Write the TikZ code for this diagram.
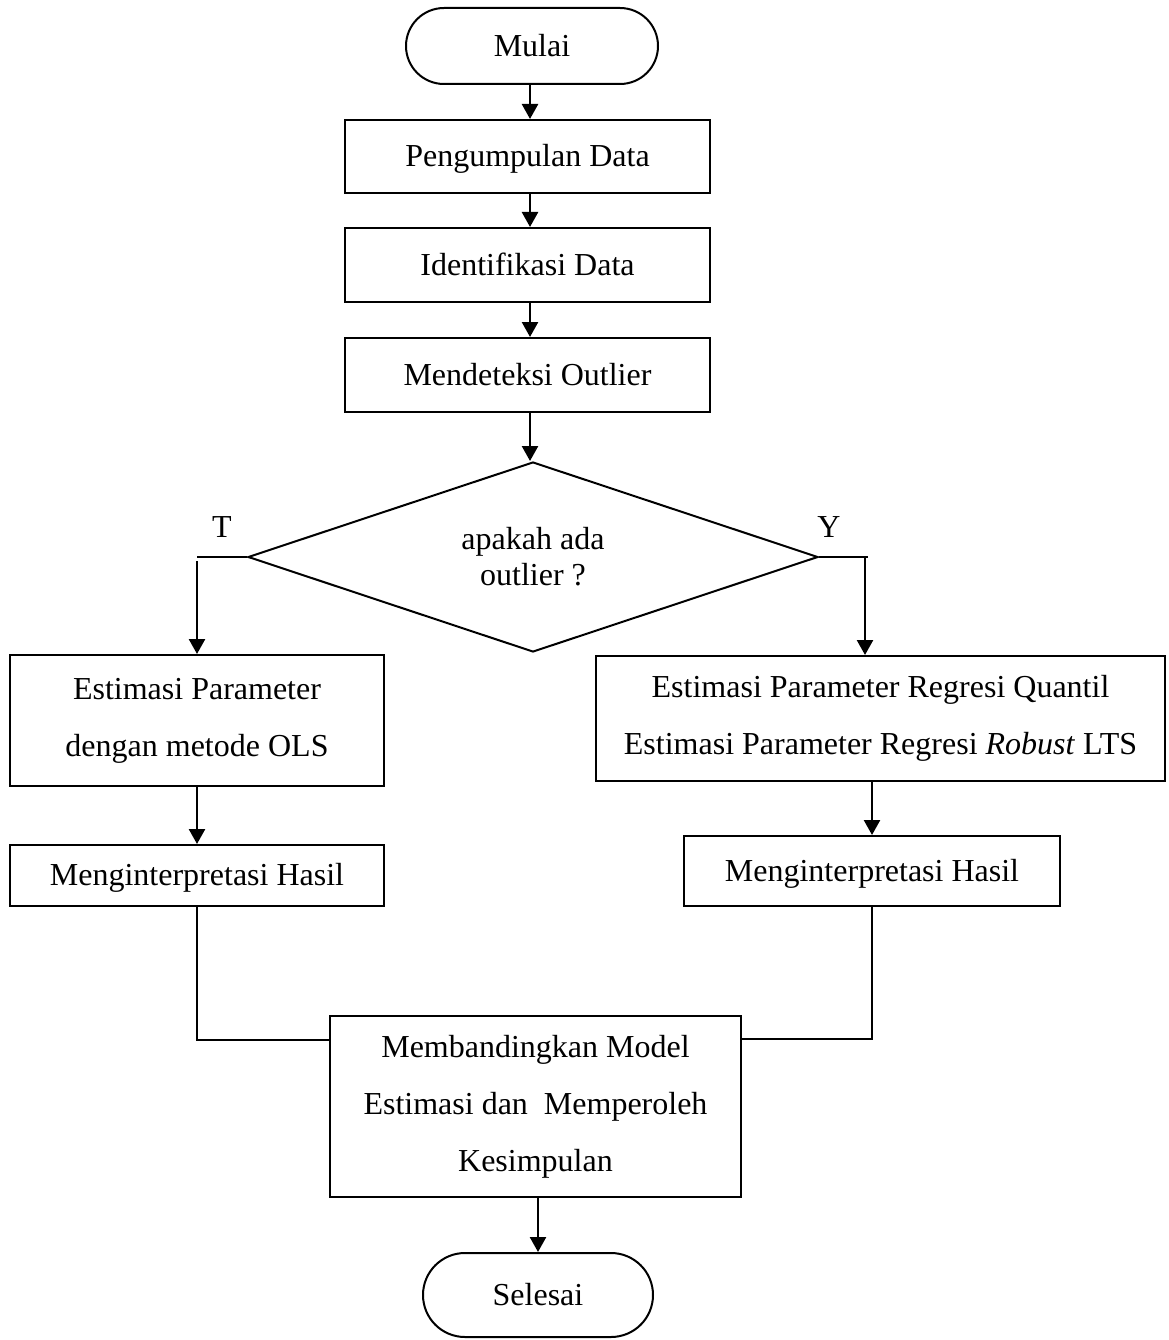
\documentclass[tikz,border=0pt]{standalone}
\usepackage{fontspec}
\setmainfont{Liberation Serif}
\usetikzlibrary{shapes.geometric,arrows.meta,calc}
\begin{document}
\begin{tikzpicture}[x=1pt,y=-1pt,
  box/.style={draw,line width=2pt,rectangle,inner sep=0pt,align=center,font=\fontsize{32}{57}\selectfont},
  onebox/.style={box,text depth=2pt},
  term/.style={box},
  decision/.style={draw,line width=2pt,diamond,aspect=3,inner sep=0pt,align=center,font=\fontsize{32}{36}\selectfont},
  lbl/.style={inner sep=0pt,font=\fontsize{32}{36}\selectfont},
  arr/.style={line width=2.5pt,-{Triangle[length=15pt,width=16pt]}},
  ln/.style={line width=2pt}]
\useasboundingbox (0,0) rectangle (1168,1340);
\node[term,rounded corners=38pt,minimum width=252pt,minimum height=76pt] (start) at (532,46) {Mulai};
\node[onebox,minimum width=365pt,minimum height=73pt] (n1) at (527.5,156.5) {Pengumpulan Data};
\node[onebox,minimum width=365pt,minimum height=74pt] (n2) at (527.5,265) {Identifikasi Data};
\node[onebox,minimum width=365pt,minimum height=74pt] (n3) at (527.5,375) {Mendeteksi Outlier};
\node[decision,minimum width=570pt,minimum height=190pt] (dia) at (533,557) {apakah ada\\outlier ?};
\node[lbl] (T) at (222,527) {T};
\node[lbl] (Y) at (829,527) {Y};
\node[box,minimum width=374pt,minimum height=131pt] (lbox) at (197,720.5) {Estimasi Parameter\\dengan metode OLS};
\node[box,minimum width=569pt,minimum height=125pt] (rbox) at (880.5,718.5) {Estimasi Parameter Regresi Quantil\\Estimasi Parameter Regresi \textit{Robust} LTS};
\node[onebox,minimum width=374pt,minimum height=61pt] (lres) at (197,875.5) {Menginterpretasi Hasil};
\node[onebox,minimum width=376pt,minimum height=70pt] (rres) at (872,871) {Menginterpretasi Hasil};
\node[box,minimum width=411pt,minimum height=181pt] (final) at (535.5,1106.5) {Membandingkan Model\\Estimasi dan\ \ Memperoleh\\Kesimpulan};
\node[term,rounded corners=42pt,minimum width=230pt,minimum height=84pt] (end) at (538,1295) {Selesai};

\draw[arr] (start.south -| 530,0) -- (n1.north -| 530,0);
\draw[arr] (n1.south -| 530,0) -- (n2.north -| 530,0);
\draw[arr] (n2.south -| 530,0) -- (n3.north -| 530,0);
\draw[arr] (n3.south -| 530,0) -- (dia.north -| 530,0);
\draw[ln] (dia.west) -- (dia.west -| lbox.north);
\draw[arr] ([yshift=-4pt]dia.west -| lbox.north) -- (lbox.north);
\draw[ln] (dia.east) -- ([xshift=3pt]dia.east -| 865,0);
\draw[arr] (dia.east -| 865,0) -- (rbox.north -| 865,0);
\draw[arr] (lbox.south) -- (lres.north);
\draw[arr] (rbox.south -| rres.north) -- (rres.north);
\draw[ln] (lres.south) -- (lres.south |- 0,1040) -- (final.west |- 0,1040);
\draw[ln] (rres.south) -- (rres.south |- 0,1039) -- (final.east |- 0,1039);
\draw[arr] (final.south -| end.north) -- (end.north);
\end{tikzpicture}
\end{document}
